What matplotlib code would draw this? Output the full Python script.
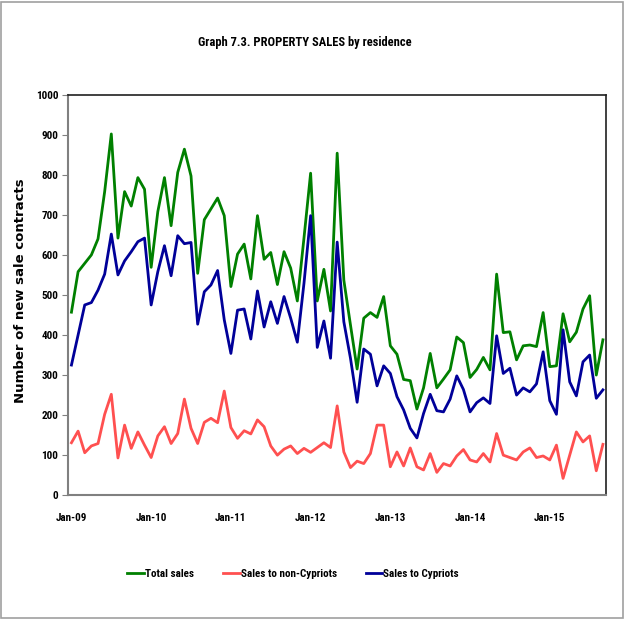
import matplotlib
matplotlib.use("Agg")
from matplotlib import pyplot as plt
from matplotlib.patches import Rectangle
import numpy as np

# monthly values, Jan-09 .. Sep-15
total_sales = [457, 558, 579, 600, 640, 758, 902, 642, 758, 722, 793, 764,
               569, 708, 793, 673, 806, 864, 797, 554, 688, 715, 742, 698,
               521, 602, 627, 540, 698, 589, 606, 526, 608, 567, 485, 642,
               804, 485, 564, 460, 854, 537, 425, 315, 442, 456, 444, 496,
               373, 352, 289, 286, 215, 268, 354, 268, 290, 313, 395, 381,
               294, 314, 344, 313, 552, 406, 408, 338, 373, 375, 371, 456,
               321, 323, 453, 383, 407, 465, 498, 300, 388]
non_cypriots = [131, 160, 106, 123, 129, 202, 252, 93, 175, 117, 158, 125,
                94, 148, 171, 129, 154, 240, 167, 129, 182, 192, 181, 260,
                169, 142, 161, 153, 188, 171, 123, 100, 115, 123, 104, 117,
                107, 119, 131, 119, 223, 108, 69, 85, 79, 104, 175, 175,
                71, 108, 73, 118, 71, 63, 104, 57, 79, 73, 98, 114,
                88, 83, 104, 83, 154, 100, 94, 88, 108, 118, 94, 98,
                88, 125, 42, 100, 158, 133, 148, 61, 127]
cypriots = [325, 400, 475, 481, 512, 552, 652, 550, 585, 608, 633, 642,
            475, 558, 623, 548, 648, 628, 631, 427, 508, 525, 561, 438,
            354, 462, 465, 390, 510, 420, 483, 429, 496, 442, 382, 529,
            698, 369, 435, 342, 632, 433, 342, 232, 365, 352, 273, 323,
            304, 246, 213, 167, 143, 204, 252, 211, 208, 240, 298, 264,
            208, 231, 243, 229, 398, 304, 317, 250, 268, 258, 278, 358,
            236, 202, 413, 283, 248, 333, 350, 242, 263]
year_labels = ['Jan-09', 'Jan-10', 'Jan-11', 'Jan-12', 'Jan-13', 'Jan-14', 'Jan-15']

narrow = ['Roboto Condensed', 'DejaVu Sans Condensed', 'Liberation Sans Narrow',
          'Open Sans Condensed', 'DejaVu Sans']

fig = plt.figure(figsize=(6.25, 6.19), dpi=100)
fig.patches.append(Rectangle((0.002, 0.002), 0.995, 0.995, transform=fig.transFigure,
                             fill=False, edgecolor='#a0a0a0', linewidth=1.2))
ax = fig.add_axes([0.109, 0.200, 0.861, 0.647])

x = np.arange(len(total_sales))
ax.plot(x, total_sales, color='#008000', lw=2, label='Total sales')
ax.plot(x, non_cypriots, color='#ff5050', lw=2, label='Sales to non-Cypriots')
ax.plot(x, cypriots, color='#000099', lw=2, label='Sales to Cypriots')

ax.set_xlim(-0.5, len(total_sales) - 0.5)
ax.set_ylim(0, 1000)
ax.set_yticks(range(0, 1001, 100))
ax.set_xticks(range(0, 12 * len(year_labels), 12))
ax.set_xticklabels(year_labels)

for lab in ax.get_yticklabels() + ax.get_xticklabels():
    lab.set_family(narrow)
    lab.set_fontstretch('condensed')
    lab.set_fontweight('bold')
    lab.set_fontsize(8)
ax.tick_params(axis='y', direction='out', length=4, color='#808080', pad=3)
ax.tick_params(axis='x', length=0, pad=13)

for s in ['left', 'bottom']:
    ax.spines[s].set_color('#808080')
    ax.spines[s].set_linewidth(1.5)
for s in ['top', 'right']:
    ax.spines[s].set_color('#202020')
    ax.spines[s].set_linewidth(1.2)

ax.set_ylabel('Number of new sale contracts', fontsize=9.5, fontweight='bold',
              family=['DejaVu Sans'])
ax.yaxis.set_label_coords(-0.077, 0.51)

fig.text(0.488, 0.932, 'Graph 7.3. PROPERTY SALES by residence', ha='center', va='center',
         fontsize=9, fontweight='bold', fontstretch='condensed', family=narrow)

leg = fig.legend(loc='center', bbox_to_anchor=(0.469, 0.073), ncol=3, frameon=False,
                 handlelength=1.5, handletextpad=0.1, columnspacing=2.6,
                 prop={'family': narrow, 'size': 8, 'weight': 'bold', 'stretch': 'condensed'})

fig.savefig('out.png', dpi=100)
